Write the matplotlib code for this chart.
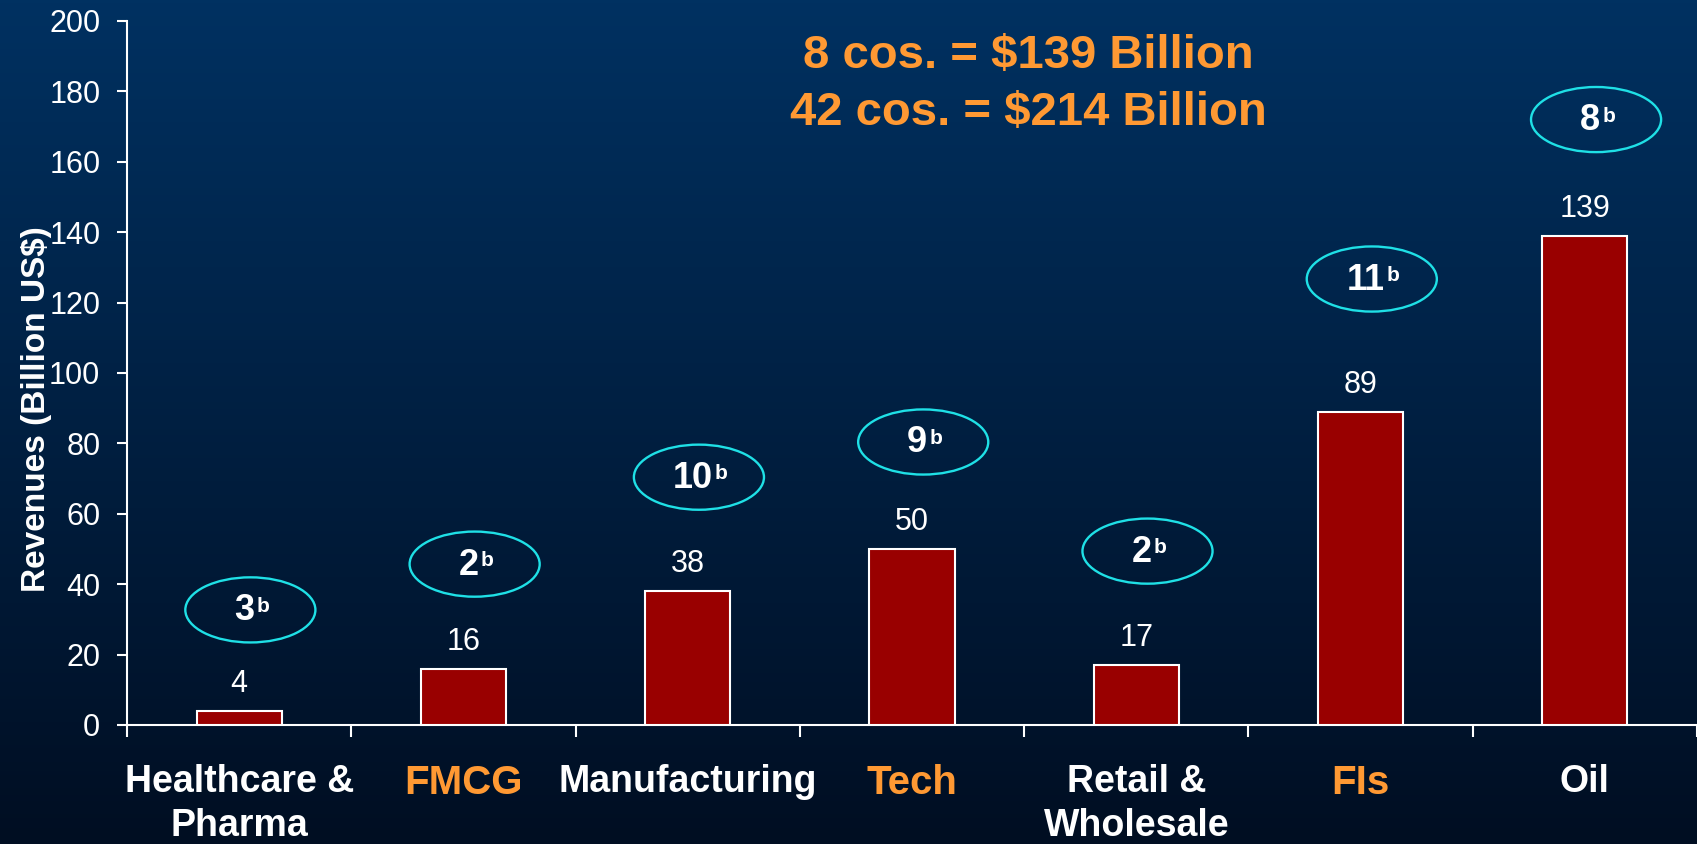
import numpy as np
import matplotlib
matplotlib.use("Agg")
import matplotlib.pyplot as plt
from matplotlib.patches import Ellipse

plt.rcParams["font.family"] = ["Liberation Sans", "DejaVu Sans"]

# data
sectors = ["Healthcare &\nPharma", "FMCG", "Manufacturing", "Tech",
           "Retail &\nWholesale", "FIs", "Oil"]
highlight = [False, True, False, True, False, True, False]
revenues = [4, 16, 38, 50, 17, 89, 139]
companies = [3, 2, 10, 9, 2, 11, 8]
bubble_y = [32.7, 45.7, 70.4, 80.4, 49.4, 126.7, 172]
yticks = np.arange(0, 201, 20)
headline = ["8 cos. = $139 Billion", "42 cos. = $214 Billion"]

ORANGE = "#FF9933"
BAR = "#990000"
CYAN = "#1FE0E6"

fig = plt.figure(figsize=(16.97, 8.44), dpi=100)

# background gradient
bg = fig.add_axes([0, 0, 1, 1], zorder=-10)
grad = np.linspace(0, 1, 256).reshape(-1, 1)
top = np.array([0x00, 0x31, 0x61]) / 255
bot = np.array([0x00, 0x0E, 0x22]) / 255
img = top[None, None, :] * (1 - grad[:, :, None]) + bot[None, None, :] * grad[:, :, None]
bg.imshow(img, aspect="auto", extent=[0, 1, 0, 1])
bg.axis("off")

ax = fig.add_axes([127 / 1697, 1 - 725 / 844, 1 - 127 / 1697, (725 - 21) / 844])
ax.set_facecolor("none")

x = np.arange(len(sectors))
ax.bar(x, revenues, width=0.38, color=BAR, edgecolor="white", linewidth=1.5, zorder=3)

for i, v in enumerate(revenues):
    ax.annotate(str(v), (i, v), xytext=(0, 19), textcoords="offset pixels",
                ha="center", va="baseline", fontsize=22, color="white")

# company-count bubbles: number with a small top-aligned "b"
for i, (n, yb) in enumerate(zip(companies, bubble_y)):
    ax.add_patch(Ellipse((i + 0.05, yb), 0.58, 18.5, fill=False,
                         edgecolor=CYAN, linewidth=1.7, zorder=4))
    num = ax.annotate(str(n), (i + 0.05, yb), xytext=(-6, -1), textcoords="offset pixels",
                      ha="center", va="center", fontsize=26, fontweight="bold",
                      color="white", zorder=5)
    ax.annotate("b", (1, 1), xycoords=num, xytext=(1.5, -2.5), textcoords="offset points",
                ha="left", va="top", fontsize=15, fontweight="bold",
                color="white", zorder=5)

ax.set_xlim(-0.5, len(sectors) - 0.5)
ax.set_ylim(0, 200)
ax.set_yticks(yticks)

ax.set_xticks(x)
ax.set_xticklabels(sectors, linespacing=1.3)
for lbl, hl in zip(ax.get_xticklabels(), highlight):
    lbl.set_fontweight("bold")
    lbl.set_color(ORANGE if hl else "white")
    lbl.set_fontsize(29 if hl else 27)
ax.set_xticks(np.arange(-0.5, len(sectors)), minor=True)
ax.tick_params(axis="x", which="major", length=0, pad=28)
ax.tick_params(axis="x", which="minor", length=8.6, width=1.5, color="white", direction="out")
ax.tick_params(axis="y", length=7.2, width=1.5, color="white", labelcolor="white",
               labelsize=22, pad=12)

for side in ["top", "right"]:
    ax.spines[side].set_visible(False)
for side in ["left", "bottom"]:
    ax.spines[side].set_color("white")
    ax.spines[side].set_linewidth(1.5)

ax.set_ylabel("Revenues (Billion US$)", fontsize=24, fontweight="bold", color="white")
ax.yaxis.set_label_coords(-0.048, 0.449)

fig.text(1028 / 1697, 1 - 56 / 844, headline[0], ha="center", va="center",
         fontsize=34, fontweight="bold", color=ORANGE, parse_math=False)
fig.text(1028 / 1697, 1 - 113 / 844, headline[1], ha="center", va="center",
         fontsize=34, fontweight="bold", color=ORANGE, parse_math=False)

fig.savefig("out.png", dpi=100)
plt.close(fig)
